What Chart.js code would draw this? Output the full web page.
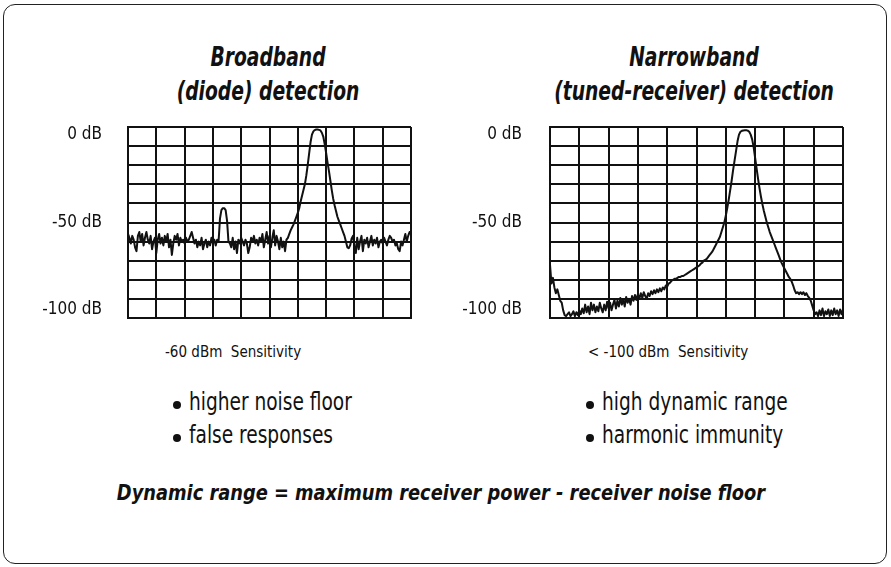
<!DOCTYPE html>
<html>
<head>
<meta charset="utf-8">
<script src="https://cdn.jsdelivr.net/npm/chart.js@4.4.1/dist/chart.umd.min.js"></script>
<style>
  html, body { margin: 0; padding: 0; background: #fff; }
  body { width: 891px; height: 567px; position: relative; overflow: hidden;
         font-family: "Liberation Sans Narrow", "DejaVu Sans Condensed", sans-serif; color: #111; }
  .frame { position: absolute; left: 3px; top: 4px; width: 884px; height: 560px;
           box-sizing: border-box; border: 1.5px solid #222; border-radius: 12px; }
  .abs { position: absolute; white-space: nowrap; line-height: 1; }
  .title { font-weight: bold; font-style: italic; font-size: 26px; transform: translateX(-50%) scaleX(0.8); }
  .sens { font-size: 15px; }
  .item { font-size: 24px; transform: scaleX(0.86); transform-origin: left top; }
  .dot { position: absolute; width: 8px; height: 8px; border-radius: 50%; background: #111; }
  .footer { font-weight: bold; font-style: italic; font-size: 22px; transform: translateX(-50%) scaleX(0.9); }
  canvas { position: absolute; }
</style>
</head>
<body>
<div class="frame"></div>

<div class="abs title" style="left:268px; top:44px;">Broadband</div>
<div class="abs title" style="left:268px; top:78px;">(diode) detection</div>
<div class="abs title" style="left:694px; top:44px;">Narrowband</div>
<div class="abs title" style="left:694px; top:78px;">(tuned-receiver) detection</div>

<canvas id="broadChart" width="400" height="211" style="left:20px; top:117px;"></canvas>
<canvas id="narrowChart" width="412" height="211" style="left:440px; top:117px;"></canvas>

<div class="abs sens" style="left:165px; top:345px;">-60 dBm&nbsp; Sensitivity</div>
<div class="abs sens" style="left:588px; top:345px;">&lt; -100 dBm&nbsp; Sensitivity</div>

<div class="dot" style="left:173px; top:401px;"></div>
<div class="abs item" style="left:189px; top:390px;">higher noise floor</div>
<div class="dot" style="left:173px; top:434px;"></div>
<div class="abs item" style="left:189px; top:423px;">false responses</div>
<div class="dot" style="left:586px; top:401px;"></div>
<div class="abs item" style="left:602px; top:390px;">high dynamic range</div>
<div class="dot" style="left:586px; top:434px;"></div>
<div class="abs item" style="left:602px; top:423px;">harmonic immunity</div>

<div class="abs footer" style="left:441px; top:482px;">Dynamic range = maximum receiver power - receiver noise floor</div>

<script>
// trace points are spaced evenly across the 10 horizontal divisions
const sweepStep = 0.05;
const divisions = 10;
const dbTicks = [0, -50, -100];

// broadband (diode) detector trace, dB
const broadDb = [
  // noise floor 0 .. 3.15
  -56, -58, -61, -57, -59, -63, -65, -57, -55, -60, -56, -62, -58, -55, -59, -61,
  -57, -64, -60, -58, -66, -59, -56, -61, -58, -62, -57, -60, -56, -63, -59, -67,
  -61, -57, -59, -56, -62, -58, -60, -59, -61, -58, -60, -59, -57, -55, -58, -61,
  -59, -63, -60, -62, -58, -64, -61, -59, -63, -60, -62, -58, -61, -59, -62, -59,
  // false response spur
  -60, -48, -43.5, -42.5, -42.5, -43.5, -49, -60,
  // noise floor 3.60 .. 5.65
  -61, -63, -58, -64, -60, -66, -59, -61, -58, -60, -62, -59, -61, -66, -63, -58,
  -60, -57, -61, -59, -62, -58, -60, -56, -63, -59, -55, -61, -57, -63, -58, -54,
  -62, -57, -60, -64, -58, -63, -60, -65, -59, -58,
  // main signal 5.70 .. 7.95
  -56, -54, -52.5, -51, -49, -47, -45, -42.5, -39, -36,
  -33, -30, -25.5, -20, -14, -8, -4, -2.3, -1.6, -1.3,
  -1.3, -1.5, -1.8, -3, -5, -9, -13.5, -18.5, -23, -28,
  -33, -37.5, -41, -44, -47, -49, -51, -53, -55, -57,
  -60, -63, -63.5, -62, -58.5, -57,
  // noise floor 8.00 .. 10
  -62, -66, -58, -64, -60, -57, -65, -59, -61, -58, -63, -60, -57, -62, -59, -61,
  -58, -63, -60, -59, -61, -58, -60, -62, -59, -57, -58, -60, -59, -62, -61, -64,
  -65, -60, -62, -59, -56, -60, -57, -55, -56
];

// narrowband (tuned receiver) trace, dB
const narrowDb = [
  // left edge
  -72, -82, -79, -84, -87, -85, -88, -91, -92, -96, -98.5, -99,
  // noise 0.60 .. 4.00
  -98, -97, -99, -98, -96.5, -99, -97, -98.5, -96, -98,
  -95, -97.5, -93, -97, -94, -98, -92, -96, -93, -97,
  -94, -96.5, -92, -95, -97, -93, -96, -91.5, -95, -92,
  -96, -93, -90.5, -95, -91, -94, -89.5, -93, -90, -94,
  -89, -92, -90, -93, -88.5, -91, -88, -90.5, -87.5, -90,
  -87, -89.5, -86.5, -88.5, -90, -87, -88.5, -86, -87.5, -85.5,
  -87, -85, -86.5, -84.5, -86, -84, -85, -83, -83.5,
  // filter skirt and peak 4.05 .. 8.50
  -82, -81.5, -80.5, -80, -79.5, -79.5, -79, -78.5, -78.5, -78,
  -78, -77.5, -77, -76.5, -76, -75.5, -75, -74.5, -74, -73.5,
  -73, -72.5, -71.5, -71, -70, -69.5, -69, -68, -67, -66,
  -65, -63.5, -62, -60.5, -59, -57.5, -55, -52.5, -50, -46.5,
  -42.5, -38, -33, -28, -22.5, -17.5, -12.5, -7.5, -4, -2.5,
  -2, -1.8, -1.7, -1.7, -1.9, -2.5, -4, -6.5, -10.5, -16,
  -21.5, -27, -32, -36.5, -40.5, -44, -47, -50, -52.5, -55,
  -57, -59, -61, -63, -65, -67, -69, -71, -72.5, -74,
  -75.5, -77, -78.5, -79.5, -81, -83, -85.5, -87, -86.5, -87.5,
  // shoulder and noise 8.55 .. 10
  -86.5, -87.5, -86.5, -88, -87, -88.5, -89.5, -91, -93.5, -96,
  -98, -97, -99, -96, -98.5, -95, -99, -96.5, -98, -95.5,
  -99, -96, -98.5, -95, -98, -96, -99, -95.5, -98, -95.5
];

const FONT = '"Liberation Sans Narrow", "DejaVu Sans Condensed", sans-serif';
const INK = '#111';

function toPoints(values) {
  return values.map((v, i) => ({ x: i * sweepStep, y: v }));
}

function makeChart(id, values, axisWidth, labelPad) {
  const ctx = document.getElementById(id);
  return new Chart(ctx, {
    type: 'line',
    data: {
      datasets: [{
        data: toPoints(values),
        borderColor: INK,
        borderWidth: 2,
        pointRadius: 0,
        tension: 0,
        borderJoinStyle: 'round'
      }]
    },
    options: {
      responsive: false,
      animation: false,
      events: [],
      layout: { padding: { top: 10, right: 9, bottom: 10, left: 0 } },
      plugins: { legend: { display: false }, tooltip: { enabled: false } },
      scales: {
        x: {
          type: 'linear',
          min: 0,
          max: divisions,
          ticks: { display: false, stepSize: 1 },
          grid: { color: INK, lineWidth: 2, drawTicks: false },
          border: { color: INK, width: 2 },
          afterFit: s => { s.height = 0; s.paddingLeft = 0; s.paddingRight = 0; }
        },
        y: {
          position: 'left',
          weight: 0,
          min: -100,
          max: 0,
          ticks: { display: false, stepSize: 10 },
          grid: { color: INK, lineWidth: 2, drawTicks: false },
          border: { color: INK, width: 2 },
          afterFit: s => { s.width = 0; s.paddingTop = 0; s.paddingBottom = 0; }
        },
        // dB labels sit slightly inside the top and bottom lines
        dbLabels: {
          position: 'left',
          weight: 1,
          min: -104.6,
          max: 4.6,
          grid: { display: false, drawTicks: false },
          border: { display: false },
          afterBuildTicks: s => { s.ticks = dbTicks.map(v => ({ value: v })); },
          ticks: {
            padding: labelPad,
            color: INK,
            font: { family: FONT, size: 17 },
            callback: v => v + ' dB'
          },
          afterFit: s => { s.width = axisWidth; s.paddingTop = 0; s.paddingBottom = 0; }
        }
      }
    }
  });
}

makeChart('broadChart', broadDb, 108, 26);
makeChart('narrowChart', narrowDb, 110, 28);
</script>
</body>
</html>
